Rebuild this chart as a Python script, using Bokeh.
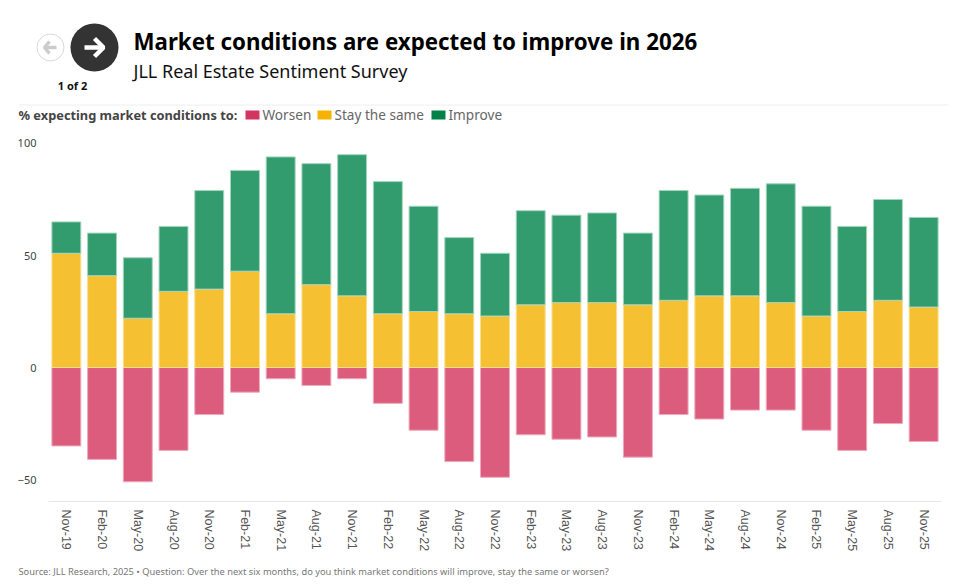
from bokeh.plotting import figure
from bokeh.layouts import column
from bokeh.models import Range1d, FactorRange, FixedTicker
from bokeh.core.properties import value
from bokeh.embed import file_html
from bokeh.resources import INLINE

periods = ["Nov-19","Feb-20","May-20","Aug-20","Nov-20","Feb-21","May-21","Aug-21","Nov-21","Feb-22","May-22","Aug-22","Nov-22",
           "Feb-23","May-23","Aug-23","Nov-23","Feb-24","May-24","Aug-24","Nov-24","Feb-25","May-25","Aug-25","Nov-25"]
worsen = [-35,-41,-51,-37,-21,-11,-5,-8,-5,-16,-28,-42,-49,-30,-32,-31,-40,-21,-23,-19,-19,-28,-37,-25,-33]
same = [51,41,22,34,35,43,24,37,32,24,25,24,23,28,29,29,28,30,32,32,29,23,25,30,27]
improve = [14,19,27,29,44,45,70,54,63,59,47,34,28,42,39,40,32,49,45,48,53,49,38,45,40]
y_ticks = [-50,0,50,100]
title = "Market conditions are expected to improve in 2026"
subtitle = "JLL Real Estate Sentiment Survey"
counter = "1 of 2"
legend_title = "% expecting market conditions to:"
legend_names = ["Worsen","Stay the same","Improve"]
source = "Source: JLL Research, 2025 • Question: Over the next six months, do you think market conditions will improve, stay the same or worsen?"

RED, YEL, GRN = "#db5c7d", "#f5c132", "#339c6e"
RED_E, YEL_E, GRN_E = "#efa9bb", "#fbdf8f", "#a3d4bd"
FONT = "Noto Sans"
W = 950

def panel(h):
    f = figure(width=W, height=h, output_backend="svg", toolbar_location=None, x_range=Range1d(0, W), y_range=Range1d(h, 0),
               min_border=0, outline_line_color=None, tools="", frame_align=False)
    f.axis.visible = False
    f.grid.visible = False
    return f

def txt(f, x, y, s, size, color="#000000", style="normal", font=FONT, align="left"):
    f.text([x],[y],text=[s],text_font=value(font),text_font_size=value(size),text_color=color,text_font_style=style,
           text_baseline="middle",text_align=align)

# header: coordinates are page pixels
head = panel(130)
head.circle([50],[47],radius=13.5,fill_color="#ffffff",line_color="#d9d9d9",line_width=1)
head.multi_line([[44,56],[49,44,49]],[[47,47],[41,47,53]],line_color="#cccccc",line_width=3.5)
head.circle([94],[47],radius=24,fill_color="#333333",line_color=None)
head.multi_line([[84,103],[94,103,94]],[[47,47],[38,47,56]],line_color="#ffffff",line_width=4.5)
txt(head,72,85,counter,"11px","#111111","bold",align="center")
txt(head,133,41,title,"22.3px","#000000","bold")
txt(head,133,70,subtitle,"18px","#111111")
head.segment([18],[104.5],[948],[104.5],line_color="#eeeeee",line_width=1)
txt(head,18,114,legend_title,"12.8px","#444444","bold")
for x0,c,n in zip([245,317,431],["#d13560","#f5b200","#048049"],legend_names):
    head.quad(left=[x0],right=[x0+14],top=[110],bottom=[119],fill_color=c,line_color=None)
    txt(head,x0+17,114,n,"13.6px","#666666")

# chart
top, bottom = 105.8, -59.8
p = figure(width=W, height=431, output_backend="svg", toolbar_location=None, tools="", frame_align=False,
           x_range=FactorRange(factors=periods), y_range=Range1d(bottom, top),
           min_border_left=48, min_border_right=9, min_border_top=0, min_border_bottom=60, outline_line_color=None)
stack_top = [a+b for a,b in zip(same,improve)]
bw = 0.81
p.vbar(x=periods, bottom=0, top=worsen, width=bw, fill_color=RED, line_color=RED_E)
p.vbar(x=periods, bottom=0, top=same, width=bw, fill_color=YEL, line_color=YEL_E)
p.vbar(x=periods, bottom=same, top=stack_top, width=bw, fill_color=GRN, line_color=GRN_E)
p.grid.visible = False
p.yaxis.ticker = FixedTicker(ticks=y_ticks)
p.yaxis.axis_line_color = None
p.yaxis.major_tick_line_color = None
p.yaxis.minor_tick_line_color = None
p.yaxis.major_label_standoff = 6
p.yaxis.major_label_text_font = FONT
p.yaxis.major_label_text_font_size = "11px"
p.yaxis.major_label_text_color = "#444444"
p.xaxis.axis_line_color = "#e6e6e6"
p.xaxis.major_tick_line_color = None
p.xaxis.minor_tick_line_color = None
p.xaxis.major_label_orientation = "vertical"
p.xaxis.major_label_standoff = 2
p.xaxis.major_label_text_font = "Liberation Sans"
p.xaxis.major_label_text_font_size = "12.5px"
p.xaxis.major_label_text_color = "#555555"

foot = panel(24)
txt(foot,18,10,source,"9.3px","#777777")

layout = column(head, p, foot, spacing=0)
open("out.html","w").write(file_html(layout, INLINE))
